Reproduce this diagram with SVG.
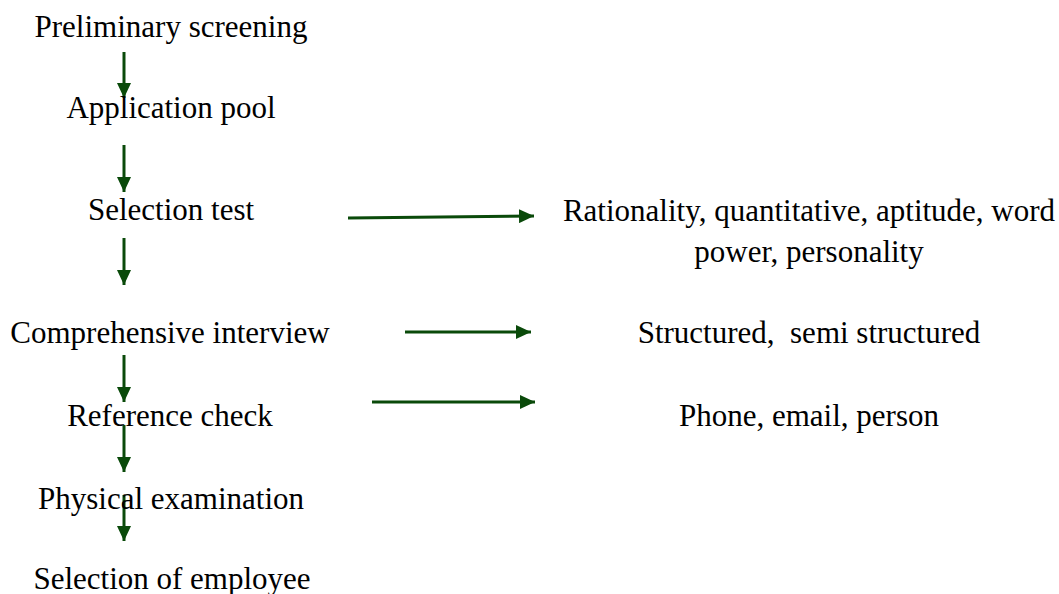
<svg xmlns="http://www.w3.org/2000/svg" width="1059" height="594" viewBox="0 0 1059 594">
<style>
text{font-family:"Liberation Serif","Times New Roman",serif;font-size:31px;fill:#000;text-anchor:middle}
.c{stroke:#0a4a0a;stroke-width:3;fill:none;marker-end:url(#ah)}
</style>
<defs>
<marker id="ah" markerUnits="userSpaceOnUse" markerWidth="16" markerHeight="14" refX="15" refY="7" orient="auto">
<path d="M0,0 L15,7 L0,14 z" fill="#0a4a0a"/>
</marker>
</defs>
<rect width="1059" height="594" fill="#fff"/>
<g id="connectors">
<line class="c" x1="124" y1="52" x2="124" y2="98"/>
<line class="c" x1="124" y1="145" x2="124" y2="192"/>
<line class="c" x1="124" y1="238" x2="124" y2="285"/>
<line class="c" x1="124" y1="355" x2="124" y2="402"/>
<line class="c" x1="124" y1="425" x2="124" y2="472"/>
<line class="c" x1="124" y1="495" x2="124" y2="541"/>
<line class="c" x1="348" y1="218" x2="534" y2="216"/>
<line class="c" x1="405" y1="332" x2="531" y2="332"/>
<line class="c" x1="372" y1="402" x2="535" y2="402"/>
</g>
<g id="n1"><text x="171" y="37">Preliminary screening</text></g>
<g id="n2"><text x="171" y="118">Application pool</text></g>
<g id="n3"><text x="171" y="220">Selection test</text></g>
<g id="n4"><text x="170" y="343">Comprehensive interview</text></g>
<g id="n5"><text x="170" y="426">Reference check</text></g>
<g id="n6"><text x="171" y="509">Physical examination</text></g>
<g id="n7"><text x="172" y="589">Selection of employee</text></g>
<g id="r1"><text x="809" y="221">Rationality, quantitative, aptitude, word</text><text x="809" y="262">power, personality</text></g>
<g id="r2"><text x="809" y="343" xml:space="preserve">Structured,  semi structured</text></g>
<g id="r3"><text x="809" y="426">Phone, email, person</text></g>
</svg>
